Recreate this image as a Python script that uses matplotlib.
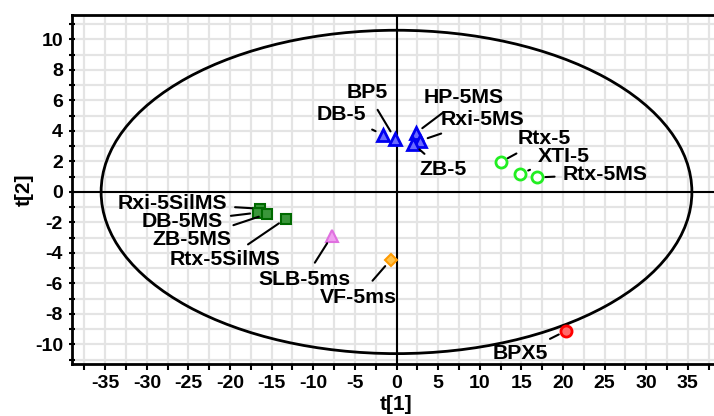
import numpy as np
import matplotlib as mpl
mpl.use('Agg')
import matplotlib.pyplot as plt
from matplotlib.patches import Ellipse

plt.rcParams['font.family'] = ['Liberation Sans', 'DejaVu Sans']
plt.rcParams['font.weight'] = 'bold'
plt.rcParams['axes.unicode_minus'] = False

# scores t[1], t[2]
names = ['Rxi-5SilMS', 'DB-5MS', 'ZB-5MS', 'Rtx-5SilMS', 'SLB-5ms', 'VF-5ms',
         'DB-5', 'BP5', 'HP-5MS', 'Rxi-5MS', 'ZB-5',
         'Rtx-5', 'XTI-5', 'Rtx-5MS', 'BPX5']
t1 = [-16.4, -16.6, -15.6, -13.3, -7.8, -0.7,
      -1.6, -0.2, 2.3, 2.8, 2.0,
      12.5, 14.9, 16.9, 20.4]
t2 = [-1.1, -1.35, -1.45, -1.75, -2.9, -4.45,
      3.75, 3.5, 3.85, 3.35, 3.15,
      1.95, 1.2, 0.95, -9.1]
group = ['sil', 'sil', 'sil', 'sil', 'slb', 'vf',
         'db5', 'db5', 'db5', 'db5', 'db5',
         'rtx', 'rtx', 'rtx', 'bpx']

# label anchor positions (data units)
lab_x = [-20.4, -20.9, -19.9, -13.9, -11.1, -4.6,
         -3.7, -3.5, 3.2, 5.3, 2.7,
         14.5, 17.0, 20.0, 14.9]
lab_y = [-0.75, -1.95, -3.1, -4.45, -5.75, -6.9,
         5.05, 6.5, 6.2, 4.75, 1.45,
         3.5, 2.35, 1.15, -10.6]
lab_ha = ['right', 'right', 'right', 'right', 'center', 'center',
          'right', 'center', 'left', 'left', 'left',
          'left', 'left', 'left', 'center']

styles = {
    'sil': dict(marker='s', ms=7.5, mfc='#3a963a', mec='#006a00', mew=1.5),
    'slb': dict(marker='^', ms=9, mfc='#f0a0f0', mec='#e070e0', mew=1.5),
    'vf':  dict(marker='D', ms=6.5, mfc='#ffc24a', mec='#ff9a00', mew=1.5),
    'db5': dict(marker='^', ms=9, mfc='#6a6aff', mec='#0000f0', mew=2),
    'rtx': dict(marker='o', ms=8, mfc='white', mec='#22ee22', mew=2),
    'bpx': dict(marker='o', ms=8, mfc='#ff6a6a', mec='#ff0000', mew=2),
}

fig = plt.figure(figsize=(7.14, 4.16), dpi=100)
ax = fig.add_axes([72 / 714, 51.7 / 416, 649 / 714, 349.3 / 416])
ax.set_xlim(-39, 39)
ax.set_ylim(-11.3, 11.6)

ax.set_xticks(np.arange(-35, 36, 5))
ax.set_xticks(np.arange(-37.5, 39, 2.5), minor=True)
ax.set_yticks(np.arange(-10, 11, 2))
ax.set_yticks(np.arange(-11, 12, 1), minor=True)
ax.grid(True, which='both', color='#e4e4e4', lw=1.6, zorder=0)
ax.set_axisbelow(True)

ax.tick_params(axis='x', which='both', direction='out', length=4, width=1.5,
               labelsize=14, pad=4)
ax.tick_params(axis='y', which='both', direction='inout', length=5, width=1.5,
               labelsize=14, pad=4)
for lab in ax.get_xticklabels() + ax.get_yticklabels():
    lab.set_fontweight('bold')

for s in ['left', 'bottom', 'top']:
    ax.spines[s].set_linewidth(2)
ax.spines['right'].set_visible(False)

ax.axhline(0, color='black', lw=1.5, zorder=1)
ax.axvline(0, color='black', lw=1.5, zorder=1)
ax.add_patch(Ellipse((0, 0), 2 * 35.5, 2 * 10.6, fill=False, ec='black',
                     lw=2, zorder=2))

for i in range(len(names)):
    ax.plot(t1[i], t2[i], ls='none', zorder=4, **styles[group[i]])
    ax.annotate(names[i], xy=(t1[i], t2[i]), xytext=(lab_x[i], lab_y[i]),
                ha=lab_ha[i], va='center', fontsize=15.3, fontweight='bold',
                zorder=5,
                arrowprops=dict(arrowstyle='-', color='black', lw=1.5,
                                shrinkA=4, shrinkB=6))

ax.set_xlabel('t[1]', fontsize=15, fontweight='bold', labelpad=2)
ax.set_ylabel('t[2]', fontsize=15, fontweight='bold', labelpad=1)

plt.savefig('out.png', dpi=100)
